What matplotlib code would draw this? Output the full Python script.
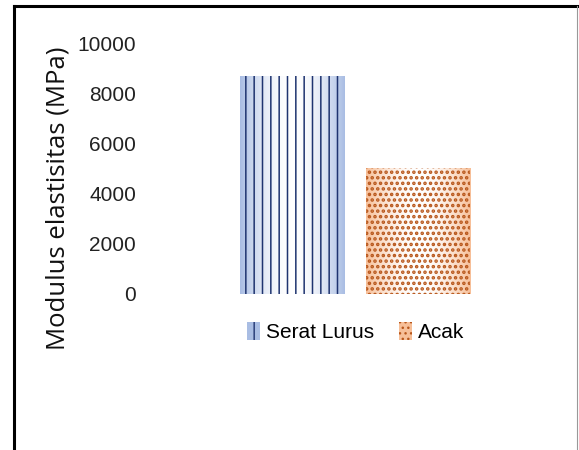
import matplotlib
matplotlib.use("Agg")
import matplotlib.pyplot as plt
import numpy as np
from matplotlib.colors import LinearSegmentedColormap
from matplotlib.lines import Line2D
from matplotlib.patches import Patch

series = ["Serat Lurus", "Acak"]
values = [8720, 5030]
yticks = [0, 2000, 4000, 6000, 8000, 10000]

edge_cols = ["#a9bde3", "#f7bf98"]
hatch_cols = ["#1f3470", "#b8561a"]
hatches = ["||", "..."]
hatch_lw = [1.1, 1.7]

tick_font = "Liberation Sans"

fig = plt.figure(figsize=(5.79, 4.5), dpi=100)
ax = fig.add_axes([0.2504, 0.3467, 0.7168, 0.5556])

x = np.arange(len(series))
bars = ax.bar(x, values, width=0.83, facecolor="none", edgecolor=hatch_cols,
              hatch=hatches, linewidth=0, zorder=3)

# soft gradient fill: coloured at the edges, white in the middle
grad = np.abs(np.linspace(-1, 1, 200)) ** 1.8
grad = np.tile(grad, (2, 1))
for b, ec, hl in zip(bars, edge_cols, hatch_lw):
    if hasattr(b, "set_hatch_linewidth"):
        b.set_hatch_linewidth(hl)
    cmap = LinearSegmentedColormap.from_list("g", ["white", ec])
    im = ax.imshow(grad, cmap=cmap, aspect="auto", zorder=2,
                   extent=(b.get_x(), b.get_x() + b.get_width(), 0, b.get_height()))
    im.set_clip_path(b)

ax.set_xlim(-1.1667, 2.127)
ax.set_ylim(0, 10000)
ax.set_yticks(yticks)
ax.set_yticklabels([str(v) for v in yticks], fontsize=15, family=tick_font, color="#222222")
ax.tick_params(axis="y", length=0, pad=6.5)
ax.set_xticks([])
for s in ax.spines.values():
    s.set_visible(False)

ax.set_ylabel("Modulus elastisitas (MPa)", fontsize=18.5, family="Open Sans", color="#111111")
ax.yaxis.set_label_coords(-0.18, 0.384)

handles = [Patch(facecolor=ec, edgecolor=hc, hatch=h, linewidth=0)
           for ec, hc, h in zip(edge_cols, hatch_cols, hatches)]
ax.legend(handles, series, loc="center", bbox_to_anchor=(0.508, -0.152), ncol=2,
          frameon=False, handlelength=0.6, handleheight=1.0, handletextpad=0.3,
          columnspacing=1.2, prop={"family": tick_font, "size": 15})

# outer frame
fig.add_artist(Line2D([14 / 579, 14 / 579], [-0.1, 1 - 6 / 450], color="black",
                      lw=2.2, transform=fig.transFigure))
fig.add_artist(Line2D([14 / 579, 577 / 579], [1 - 6 / 450, 1 - 6 / 450], color="black",
                      lw=2.2, transform=fig.transFigure))
fig.add_artist(Line2D([577 / 579, 577 / 579], [-0.1, 1 - 6 / 450], color="#999999",
                      lw=0.8, transform=fig.transFigure))

fig.savefig("out.png", dpi=100)
